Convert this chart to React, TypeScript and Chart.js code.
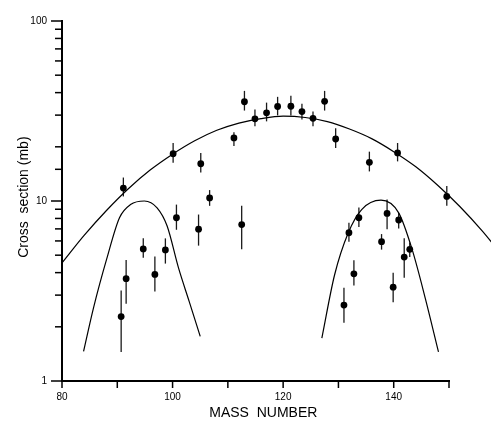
import React, { useEffect, useRef } from 'react';
import { Chart, registerables } from 'chart.js';

Chart.register(...registerables);

// Measured cross sections (mass number, value, error upper, error lower)
const massNumbers = [90.7, 91.1, 91.6, 94.7, 96.8, 98.7, 100.1, 100.7, 104.7, 105.1, 106.7, 111.1, 112.5, 113.0, 114.9, 117.0, 119.0, 121.4, 123.4, 125.4, 127.5, 129.5, 131.0, 131.9, 132.8, 133.7, 135.6, 137.8, 138.8, 139.9, 140.7, 140.9, 141.9, 142.9, 149.6];
const crossSections = [2.28, 11.8, 3.70, 5.42, 3.91, 5.35, 18.3, 8.07, 6.97, 16.1, 10.4, 22.4, 7.4, 35.6, 28.6, 30.9, 33.5, 33.6, 31.4, 28.8, 35.8, 22.1, 2.64, 6.66, 3.94, 8.07, 16.4, 5.94, 8.53, 3.32, 18.5, 7.84, 4.88, 5.39, 10.6];
const errorUpper = [3.18, 13.5, 4.70, 6.2, 4.92, 6.2, 21.0, 9.55, 8.41, 18.5, 11.5, 24.1, 9.4, 40.9, 32.2, 35.2, 37.9, 38.4, 34.7, 31.4, 40.9, 25.4, 3.30, 7.58, 4.68, 9.19, 18.8, 6.55, 10.2, 3.99, 21.0, 8.59, 6.2, 5.89, 12.1];
const errorLower = [1.45, 10.6, 2.69, 4.84, 3.14, 4.49, 16.3, 6.92, 5.65, 14.4, 9.4, 20.2, 5.4, 31.8, 26.0, 27.7, 29.9, 29.9, 28.4, 26.0, 31.8, 19.7, 2.11, 5.94, 3.39, 7.18, 14.6, 5.37, 6.97, 2.74, 16.6, 7.03, 3.75, 4.88, 9.4];

// Broad curve
const mainCurveMass = [80, 84, 88, 92, 96, 100, 104, 108, 112, 116, 120, 124, 128, 132, 136, 140, 144, 148, 152, 156, 160];
const mainCurveValues = [4.53, 6.44, 8.83, 11.7, 14.9, 18.2, 21.6, 24.7, 27.1, 28.7, 29.6, 29.1, 27.6, 25.1, 22.2, 18.8, 15.5, 12.2, 9.29, 6.82, 4.82];

// Left narrow curve
const leftCurveMass = [83.9, 85.7, 88.1, 90.4, 92.4, 94.9, 97.2, 99.0, 101.1, 103.0, 105.0];
const leftCurveValues = [1.46, 2.55, 4.78, 8.07, 9.55, 10.0, 9.16, 7.28, 4.22, 2.77, 1.77];

// Right narrow curve
const rightCurveMass = [127.0, 129.3, 131.8, 134.2, 137.7, 140.9, 143.3, 145.7, 148.1];
const rightCurveValues = [1.73, 3.88, 6.68, 8.96, 10.1, 8.59, 5.42, 2.89, 1.45];

const xAxisRange = [80, 150];
const yAxisRange = [1, 100];
const xTickLabels = [80, 100, 120, 140];
const yTickLabels = [1, 10, 100];

const FONT = "'Liberation Sans', Arial, Helvetica, sans-serif";

const toXY = (xs: number[], ys: number[]) => xs.map((x, i) => ({ x, y: ys[i] }));

const errorBarPlugin = {
  id: 'errorBars',
  beforeDatasetsDraw(chart: any) {
    const { ctx, scales } = chart;
    const x = scales.x;
    const y = scales.y;
    ctx.save();
    ctx.strokeStyle = '#1a1a1a';
    ctx.lineWidth = 1.3;
    massNumbers.forEach((m, i) => {
      const px = x.getPixelForValue(m);
      ctx.beginPath();
      ctx.moveTo(px, y.getPixelForValue(errorUpper[i]));
      ctx.lineTo(px, y.getPixelForValue(errorLower[i]));
      ctx.stroke();
    });
    ctx.restore();
  },
};

const axisTicksPlugin = {
  id: 'axisTicks',
  afterDraw(chart: any) {
    const { ctx, scales, chartArea } = chart;
    const x = scales.x;
    const y = scales.y;
    ctx.save();
    ctx.strokeStyle = '#000';
    ctx.lineWidth = 1.5;
    y.ticks.forEach((t: any) => {
      const py = y.getPixelForValue(t.value);
      const len = yTickLabels.includes(t.value) ? 11 : 7;
      ctx.beginPath();
      ctx.moveTo(chartArea.left - len, py);
      ctx.lineTo(chartArea.left, py);
      ctx.stroke();
    });
    x.ticks.forEach((t: any) => {
      const px = x.getPixelForValue(t.value);
      ctx.beginPath();
      ctx.moveTo(px, chartArea.bottom);
      ctx.lineTo(px, chartArea.bottom + 7);
      ctx.stroke();
    });
    ctx.restore();
  },
};

const curveStyle = {
  type: 'line',
  borderColor: '#000',
  borderWidth: 1.2,
  pointRadius: 0,
  pointHoverRadius: 0,
  fill: false,
  cubicInterpolationMode: 'monotone',
  clip: false,
};

export default function App() {
  const canvasRef = useRef<HTMLCanvasElement | null>(null);

  useEffect(() => {
    const canvas = canvasRef.current;
    if (!canvas) return;
    const chart = new Chart(canvas, {
      type: 'scatter',
      data: {
        datasets: [
          {
            type: 'scatter',
            data: toXY(massNumbers, crossSections),
            backgroundColor: '#000',
            borderWidth: 0,
            pointRadius: 3.4,
            pointHoverRadius: 3.4,
          },
          { ...curveStyle, data: toXY(mainCurveMass, mainCurveValues) },
          { ...curveStyle, data: toXY(leftCurveMass, leftCurveValues) },
          { ...curveStyle, data: toXY(rightCurveMass, rightCurveValues) },
        ] as any,
      },
      options: {
        animation: false,
        responsive: false,
        maintainAspectRatio: false,
        layout: { padding: { top: 15, right: 42, bottom: 0, left: 0 } },
        plugins: {
          legend: { display: false },
          tooltip: { enabled: false },
        },
        scales: {
          x: {
            type: 'linear',
            afterDataLimits: (s: any) => {
              s.min = xAxisRange[0];
              s.max = xAxisRange[1];
            },
            afterFit: (s: any) => {
              s.height = 41;
              s.paddingLeft = 0;
              s.paddingRight = 0;
            },
            grid: { display: true, drawOnChartArea: false, drawTicks: false },
            border: { display: true, width: 2, color: '#000' },
            ticks: {
              stepSize: 10,
              autoSkip: false,
              maxRotation: 0,
              padding: 10,
              color: '#000',
              font: { family: FONT, size: 10 },
              callback: (v: any) => (xTickLabels.includes(Number(v)) ? String(v) : ''),
            },
            title: {
              display: true,
              text: '    MASS  NUMBER',
              color: '#000',
              font: { family: FONT, size: 14 },
              padding: { top: 0, bottom: 0 },
            },
          },
          y: {
            type: 'logarithmic',
            min: yAxisRange[0],
            max: yAxisRange[1],
            afterFit: (s: any) => {
              s.width = 62;
            },
            grid: { display: true, drawOnChartArea: false, drawTicks: false },
            border: { display: true, width: 2, color: '#000' },
            ticks: {
              autoSkip: false,
              padding: 15,
              color: '#000',
              font: { family: FONT, size: 10 },
              callback: (v: any) => (yTickLabels.includes(Number(v)) ? String(v) : ''),
            },
            title: {
              display: true,
              text: '  Cross  section (mb)',
              color: '#000',
              font: { family: FONT, size: 14 },
              padding: { top: 16, bottom: 0 },
            },
          },
        },
      } as any,
      plugins: [errorBarPlugin, axisTicksPlugin],
    });
    return () => chart.destroy();
  }, []);

  return (
    <div style={{ position: 'absolute', left: 0, top: 0, width: 491, height: 422, background: '#fff' }}>
      <canvas ref={canvasRef} width={491} height={422} style={{ display: 'block' }} />
    </div>
  );
}
